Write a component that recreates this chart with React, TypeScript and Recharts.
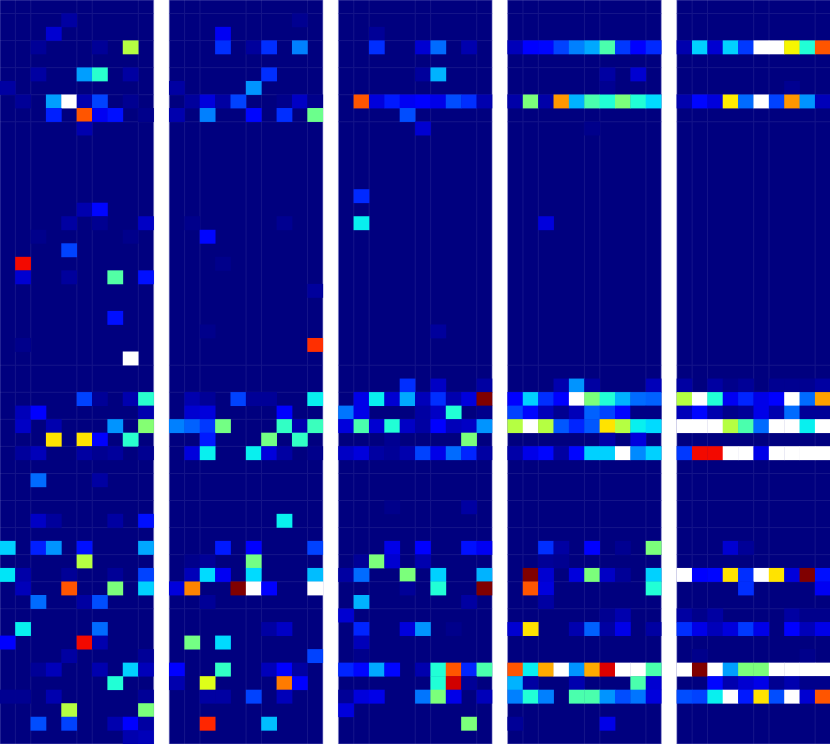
import { CartesianGrid, ReferenceArea, Scatter, ScatterChart, XAxis, YAxis } from 'recharts'

type Triple = [row: number, col: number, value: number]

// anything above 1 is past the colour range and draws white
const OVER = 1.2
const ROWS = 55
const COLS = 10

const gridRows = [0, 1, 2, 3, 4, 5, 6, 7, 8, 9, 27, 28, 29, 30, 31, 32, 33, 34, 35, 36, 37, 38, 39, 40, 41, 42, 43, 44, 45]
const gridCols = [1, 2, 5, 6, 9]

const panelA: Triple[] = [
  [1, 4, 0.03], [2, 3, 0.07], [3, 2, 0.02], [3, 6, 0.02], [3, 8, 0.57],
  [5, 2, 0.03], [5, 5, 0.28], [5, 6, 0.4], [5, 8, 0.03], [6, 0, 0.03],
  [7, 1, 0.02], [7, 3, 0.28], [7, 4, OVER], [7, 5, 0.04], [7, 6, 0.19], [7, 8, 0.015],
  [8, 3, 0.155], [8, 5, 0.82], [8, 6, 0.1], [8, 7, 0.14], [8, 9, 0.01], [9, 5, 0.04],
  [15, 5, 0.04], [15, 6, 0.13], [16, 4, 0.03], [16, 6, 0.015], [16, 9, 0.06],
  [17, 2, 0.01], [17, 8, 0.01], [18, 4, 0.19], [19, 1, 0.9],
  [20, 1, 0.07], [20, 4, 0.025], [20, 7, 0.45], [20, 9, 0.14], [23, 7, 0.14], [25, 1, 0.01], [26, 8, OVER],
  [29, 5, 0.19], [29, 6, 0.02], [29, 8, 0.04], [29, 9, 0.4],
  [30, 1, 0.05], [30, 2, 0.12], [30, 9, 0.04],
  [31, 1, 0.06], [31, 3, 0.04], [31, 7, 0.27], [31, 9, 0.51],
  [32, 3, 0.67], [32, 5, 0.67], [32, 6, 0.12], [32, 8, 0.4],
  [33, 1, 0.025], [33, 2, 0.05], [33, 5, 0.03], [33, 6, 0.015], [33, 7, 0.025], [33, 9, 0.015],
  [35, 2, 0.23], [35, 6, 0.03], [38, 2, 0.06], [38, 3, 0.025], [38, 7, 0.03], [38, 9, 0.14],
  [40, 0, 0.33], [40, 2, 0.155], [40, 3, 0.27], [40, 5, 0.14], [40, 9, 0.29], [41, 5, 0.57],
  [42, 0, 0.35], [42, 1, 0.035], [42, 4, 0.02], [42, 7, 0.02], [42, 9, 0.19],
  [43, 1, 0.05], [43, 4, 0.82], [43, 7, 0.5], [43, 9, 0.33],
  [44, 2, 0.23], [44, 5, 0.03], [44, 6, 0.2], [46, 1, 0.36], [46, 6, 0.23],
  [47, 0, 0.12], [47, 5, 0.9], [47, 6, 0.04], [48, 4, 0.03], [48, 9, 0.02],
  [49, 2, 0.02], [49, 3, 0.05], [49, 6, 0.04], [49, 8, 0.33], [49, 9, 0.05], [50, 7, 0.39],
  [51, 0, 0.015], [51, 1, 0.015], [51, 3, 0.04], [51, 9, 0.02], [52, 4, 0.57], [52, 9, 0.5],
  [53, 2, 0.2], [53, 4, 0.19], [53, 7, 0.04], [53, 8, 0.12], [53, 9, 0.03], [54, 8, 0.04], [54, 9, 0.05],
]

const panelB: Triple[] = [
  [1, 8, 0.015], [2, 3, 0.1], [3, 3, 0.17], [3, 5, 0.025], [3, 6, 0.17], [3, 8, 0.25],
  [5, 6, 0.17], [6, 0, 0.03], [6, 5, 0.27],
  [7, 1, 0.025], [7, 2, 0.08], [7, 3, 0.03], [7, 4, 0.19], [7, 7, 0.01], [7, 8, 0.06], [7, 9, 0.01],
  [8, 0, 0.04], [8, 2, 0.25], [8, 5, 0.13], [8, 7, 0.17], [8, 9, 0.48],
  [16, 1, 0.01], [16, 7, 0.015], [17, 2, 0.13], [19, 3, 0.01], [21, 9, 0.025], [24, 2, 0.01], [25, 9, 0.86],
  [29, 1, 0.04], [29, 2, 0.02], [29, 4, 0.19], [29, 5, 0.02], [29, 6, 0.02], [29, 9, 0.36],
  [30, 1, 0.07], [30, 2, 0.08], [30, 7, 0.12],
  [31, 0, 0.25], [31, 1, 0.22], [31, 2, 0.18], [31, 3, 0.49], [31, 7, 0.41], [31, 8, 0.04], [31, 9, 0.42],
  [32, 2, 0.15], [32, 6, 0.49], [32, 8, 0.41],
  [33, 1, 0.08], [33, 2, 0.36], [33, 5, 0.36], [33, 6, 0.08], [33, 7, 0.03], [33, 9, 0.01],
  [38, 7, 0.36], [40, 3, 0.15], [40, 5, 0.12], [40, 9, 0.19], [41, 1, 0.01], [41, 2, 0.02], [41, 5, 0.49],
  [42, 1, 0.05], [42, 2, 0.34], [42, 3, 0.1], [42, 5, 0.34], [42, 9, 0.31],
  [43, 0, 0.08], [43, 1, 0.77], [43, 4, 1], [43, 5, OVER], [43, 6, 0.12], [43, 9, OVER],
  [44, 2, 0.02], [46, 6, 0.03], [46, 7, 0.06], [47, 1, 0.49], [47, 3, 0.34], [48, 9, 0.19],
  [49, 0, 0.12], [49, 3, 0.41], [49, 6, 0.05], [49, 7, 0.12], [49, 8, 0.03],
  [50, 0, 0.04], [50, 2, 0.62], [50, 7, 0.78], [50, 8, 0.115],
  [51, 2, 0.03], [51, 3, 0.03], [51, 5, 0.19], [51, 7, 0.05], [53, 2, 0.87], [53, 6, 0.31],
]

const panelC: Triple[] = [
  [2, 2, 0.02], [3, 2, 0.17], [3, 5, 0.07], [3, 6, 0.23], [3, 8, 0.04], [5, 5, 0.025], [5, 6, 0.3],
  [7, 1, 0.82], [7, 2, 0.08], [7, 3, 0.15], [7, 4, 0.1], [7, 5, 0.11], [7, 6, 0.09], [7, 7, 0.2], [7, 8, 0.17], [7, 9, 0.04],
  [8, 4, 0.2], [9, 5, 0.07], [14, 1, 0.165], [16, 1, 0.36], [24, 6, 0.025],
  [28, 4, 0.17], [28, 6, 0.06], [28, 9, 0.03],
  [29, 1, 0.09], [29, 2, 0.36], [29, 3, 0.07], [29, 4, 0.29], [29, 5, 0.05], [29, 6, 0.17], [29, 7, 0.04], [29, 8, 0.08], [29, 9, 1],
  [30, 0, 0.24], [30, 1, 0.09], [30, 5, 0.03], [30, 6, 0.06], [30, 7, 0.39], [30, 9, 0.01],
  [31, 0, 0.08], [31, 1, 0.44], [31, 2, 0.07], [31, 3, 0.39], [31, 4, 0.06], [31, 5, 0.03], [31, 6, 0.11], [31, 7, 0.05], [31, 8, 0.06], [31, 9, 0.27],
  [32, 3, 0.015], [32, 8, 0.5],
  [33, 0, 0.06], [33, 1, 0.08], [33, 2, 0.03], [33, 3, 0.02], [33, 4, 0.04], [33, 5, 0.19], [33, 6, 0.09], [33, 7, 0.23], [33, 8, 0.16], [33, 9, 0.03],
  [37, 3, 0.01], [37, 8, 0.03], [40, 3, 0.09], [40, 5, 0.11], [40, 8, 0.14], [40, 9, 0.1],
  [41, 1, 0.02], [41, 2, 0.5], [41, 3, 0.07], [41, 5, 0.04],
  [42, 0, 0.03], [42, 1, 0.23], [42, 4, 0.5], [42, 6, 0.33], [42, 9, 0.3],
  [43, 4, 0.02], [43, 6, 0.39], [43, 9, 1], [44, 1, 0.3], [44, 8, 0.03], [45, 0, 0.07],
  [46, 1, 0.16], [46, 4, 0.08], [46, 5, 0.27], [46, 7, 0.01], [47, 1, 0.05], [48, 1, 0.01],
  [49, 0, 0.16], [49, 1, 0.13], [49, 2, 0.29], [49, 3, 0.13], [49, 5, 0.04], [49, 6, 0.39], [49, 7, 0.82], [49, 8, 0.16], [49, 9, 0.44],
  [50, 6, 0.39], [50, 7, 0.93], [50, 8, 0.02],
  [51, 0, 0.02], [51, 1, 0.08], [51, 2, 0.09], [51, 5, 0.24], [51, 6, 0.5], [51, 7, 0.09], [51, 9, 0.05],
  [52, 0, 0.08], [53, 8, 0.5],
]

const panelD: Triple[] = [
  [3, 0, 0.05], [3, 1, 0.12], [3, 2, 0.13], [3, 3, 0.19], [3, 4, 0.25], [3, 5, 0.29], [3, 6, 0.44], [3, 7, 0.18], [3, 8, 0.12], [3, 9, 0.165],
  [5, 6, 0.03], [5, 8, 0.07], [6, 6, 0.015],
  [7, 0, 0.035], [7, 1, 0.5], [7, 2, 0.035], [7, 3, 0.75], [7, 4, 0.3], [7, 5, 0.44], [7, 6, 0.39], [7, 7, 0.5], [7, 8, 0.39], [7, 9, 0.34],
  [9, 5, 0.01], [16, 2, 0.08],
  [28, 3, 0.04], [28, 4, 0.27], [28, 5, 0.03], [28, 9, 0.05],
  [29, 0, 0.11], [29, 1, 0.33], [29, 2, 0.17], [29, 3, 0.12], [29, 4, OVER], [29, 5, 0.5], [29, 6, 0.39], [29, 7, 0.3], [29, 8, 0.23], [29, 9, 0.22],
  [30, 0, 0.19], [30, 1, 0.13], [30, 2, 0.05], [30, 3, 0.015], [30, 4, 0.05], [30, 5, 0.22], [30, 6, 0.19], [30, 7, 0.13], [30, 8, 0.005], [30, 9, 0.005],
  [31, 0, 0.57], [31, 1, OVER], [31, 2, 0.57], [31, 3, 0.21], [31, 4, 0.16], [31, 5, 0.21], [31, 6, 0.67], [31, 7, 0.57], [31, 8, 0.36], [31, 9, 0.34],
  [32, 6, 0.035], [32, 8, 0.08],
  [33, 0, 0.035], [33, 1, 0.09], [33, 2, 0.13], [33, 3, 0.03], [33, 4, 0.13], [33, 5, 0.33], [33, 6, 0.33], [33, 7, OVER], [33, 8, 0.26], [33, 9, 0.33],
  [40, 2, 0.17], [40, 3, 0.03], [40, 5, 0.11], [40, 7, 0.015], [40, 9, 0.5], [41, 2, 0.02], [41, 3, 0.015],
  [42, 1, 1], [42, 2, 0.07], [42, 4, 0.08], [42, 5, 0.5], [42, 6, 0.06], [42, 7, 0.02], [42, 9, 0.33],
  [43, 1, 0.82], [43, 2, 0.08], [43, 9, 0.39], [44, 2, 0.03], [45, 6, 0.015], [45, 7, 0.04],
  [46, 0, 0.07], [46, 1, 0.67], [46, 4, 0.04], [46, 5, 0.22], [46, 6, 0.03], [46, 7, 0.09], [46, 9, 0.03],
  [49, 0, 0.82], [49, 1, 0.36], [49, 2, 0.73], [49, 3, OVER], [49, 4, 0.27], [49, 5, 0.73], [49, 6, 0.92], [49, 7, OVER], [49, 8, OVER], [49, 9, 0.44],
  [50, 0, 0.3], [50, 1, 0.03], [50, 4, 0.04], [50, 8, 0.44], [50, 9, 0.07],
  [51, 0, 0.25], [51, 1, 0.39], [51, 2, 0.25], [51, 4, 0.44], [51, 5, 0.44], [51, 6, 0.27], [51, 7, 0.2], [51, 8, 0.24], [51, 9, 0.08],
  [53, 0, 0.02], [53, 6, 0.09],
]

const panelE: Triple[] = [
  [3, 0, 0.04], [3, 1, 0.33], [3, 2, 0.07], [3, 3, 0.33], [3, 4, 0.18], [3, 5, OVER], [3, 6, OVER], [3, 7, 0.65], [3, 8, 0.39], [3, 9, 0.82],
  [6, 7, 0.015],
  [7, 0, 0.04], [7, 1, 0.13], [7, 2, 0.08], [7, 3, 0.66], [7, 4, 0.23], [7, 5, OVER], [7, 6, 0.19], [7, 7, 0.75], [7, 8, 0.27], [7, 9, 0.05],
  [28, 0, 0.03], [28, 2, 0.03], [28, 3, 0.01], [28, 4, 0.02], [28, 6, 0.015], [28, 7, 0.015], [28, 8, 0.015], [28, 9, 0.03],
  [29, 0, 0.57], [29, 1, OVER], [29, 2, 0.39], [29, 3, 0.1], [29, 4, 0.16], [29, 5, 0.09], [29, 6, 0.11], [29, 7, OVER], [29, 8, 0.23], [29, 9, 0.74],
  [30, 0, 0.05], [30, 1, 0.13], [30, 2, 0.04], [30, 3, 0.01], [30, 4, 0.02], [30, 5, 0.09], [30, 6, 0.04], [30, 7, 0.23], [30, 8, 0.02], [30, 9, 0.02],
  [31, 0, OVER], [31, 1, OVER], [31, 2, OVER], [31, 3, 0.57], [31, 4, 0.44], [31, 5, 0.23], [31, 6, OVER], [31, 7, OVER], [31, 8, 0.36], [31, 9, OVER],
  [33, 0, 0.18], [33, 1, 0.9], [33, 2, 0.9], [33, 3, OVER], [33, 4, OVER], [33, 5, 0.09], [33, 6, OVER], [33, 7, OVER], [33, 8, OVER], [33, 9, OVER],
  [40, 3, 0.07], [40, 4, 0.02],
  [42, 0, OVER], [42, 1, 0.12], [42, 2, 0.13], [42, 3, 0.67], [42, 4, 0.17], [42, 5, OVER], [42, 6, 0.67], [42, 7, 0.08], [42, 8, 1], [42, 9, 0.14],
  [43, 4, 0.17], [43, 9, 0.1],
  [45, 0, 0.03], [45, 1, 0.01], [45, 2, 0.03], [45, 7, 0.03], [45, 8, 0.01], [45, 9, 0.01],
  [46, 0, 0.17], [46, 1, 0.09], [46, 2, 0.05], [46, 3, 0.08], [46, 4, 0.18], [46, 5, 0.09], [46, 7, 0.11], [46, 8, 0.05], [46, 9, 0.09],
  [48, 1, 0.01], [48, 8, 0.01],
  [49, 0, OVER], [49, 1, 1], [49, 2, OVER], [49, 3, 0.28], [49, 4, 0.5], [49, 5, 0.5], [49, 6, OVER], [49, 7, OVER], [49, 8, OVER], [49, 9, OVER],
  [50, 2, 0.13], [50, 3, 0.04], [50, 4, 0.07], [50, 5, 0.09], [50, 6, 0.015], [50, 7, 0.04], [50, 8, 0.01], [50, 9, 0.01],
  [51, 0, 0.2], [51, 1, 0.19], [51, 2, 0.36], [51, 3, OVER], [51, 4, 0.15], [51, 5, 0.67], [51, 6, 0.2], [51, 7, OVER], [51, 8, 0.07], [51, 9, 0.82],
]

const panels = [panelA, panelB, panelC, panelD, panelE]

const PANEL_W = 153.7
const PANEL_STEP = 169.2
const WIDTH = 830
const HEIGHT = 744
// neighbouring cells overlap a little so no seam shows between them
const BLEED = 0.2

// matplotlib's jet as [stop, value] lists
const RED = [[0, 0], [0.35, 0], [0.66, 1], [0.89, 1], [1, 0.5]]
const GREEN = [[0, 0], [0.125, 0], [0.375, 1], [0.64, 1], [0.91, 0], [1, 0]]
const BLUE = [[0, 0.5], [0.11, 1], [0.34, 1], [0.65, 0], [1, 0]]

function channel(stops: number[][], v: number) {
  for (let i = 1; i < stops.length; i++) {
    if (v <= stops[i][0]) {
      const [x0, y0] = stops[i - 1]
      const [x1, y1] = stops[i]
      return Math.round((y0 + ((v - x0) / (x1 - x0)) * (y1 - y0)) * 255)
    }
  }
  return 0
}

function jet(v: number) {
  if (v > 1) return '#ffffff'
  return `rgb(${channel(RED, v)},${channel(GREEN, v)},${channel(BLUE, v)})`
}

function HeatCell({ cx, cy, payload }: any) {
  const w = PANEL_W / COLS
  const h = HEIGHT / ROWS
  return (
    <rect
      x={cx - w / 2 - BLEED}
      y={cy - h / 2 - BLEED}
      width={w + BLEED * 2}
      height={h + BLEED * 2}
      fill={jet(payload.value)}
    />
  )
}

function Panel({ cells, index }: { cells: Triple[]; index: number }) {
  const left = PANEL_STEP * index
  const data = cells.map(([row, col, value]) => ({ x: col + 0.5, y: row + 0.5, value }))
  return (
    <div style={{ position: 'absolute', left: 0, top: 0 }}>
      <ScatterChart
        width={WIDTH}
        height={HEIGHT}
        margin={{ top: 0, bottom: 0, left, right: WIDTH - left - PANEL_W }}
      >
        <XAxis type="number" dataKey="x" domain={[0, COLS]} hide />
        <YAxis type="number" dataKey="y" domain={[0, ROWS]} reversed hide />
        <CartesianGrid
          fill="#00007f"
          stroke="#15158a"
          horizontalValues={gridRows}
          verticalValues={gridCols}
        />
        <Scatter data={data} shape={HeatCell} isAnimationActive={false} />
        <ReferenceArea x1={0} x2={COLS} y1={0} y2={ROWS} fill="none" stroke="#8a8ad0" strokeOpacity={0.5} />
      </ScatterChart>
    </div>
  )
}

export default function App() {
  return (
    <div style={{ position: 'absolute', left: 0, top: 0, width: WIDTH, height: HEIGHT, overflow: 'hidden', background: '#fff' }}>
      {panels.map((cells, i) => (
        <Panel key={i} cells={cells} index={i} />
      ))}
    </div>
  )
}
